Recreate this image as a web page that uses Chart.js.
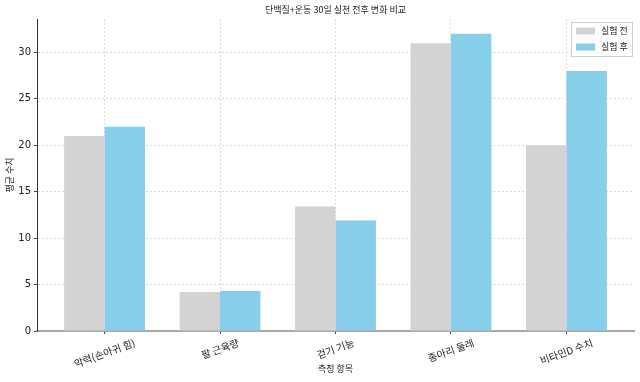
<!DOCTYPE html>
<html>
<head>
<meta charset="utf-8">
<script src="https://cdn.jsdelivr.net/npm/chart.js@4"></script>
<style>
  html, body { margin: 0; padding: 0; background: #fff; }
  #wrap { width: 640px; height: 382px; }
</style>
</head>
<body>
<div id="wrap"><canvas id="chart" width="640" height="382"></canvas></div>
<script>
// data
const categories = ["악력(손아귀 힘)", "팔 근육량", "걷기 기능", "종아리 둘레", "비타민D 수치"];
const beforeValues = [21, 4.2, 13.4, 31, 20];
const afterValues = [22, 4.3, 11.9, 32, 28];
const yTicks = [0, 5, 10, 15, 20, 25, 30];
const seriesNames = ["실험 전", "실험 후"];
const titleText = "단백질+운동 30일 실천 전후 변화 비교";
const xTitle = "측정 항목";
const yTitle = "평균 수치";

const FONT = "'DejaVu Sans', 'Noto Sans CJK KR', sans-serif";
const KFONT = "'Noto Sans CJK KR', 'DejaVu Sans', sans-serif";

// draws title, axis titles, rotated x labels and the boxed legend
const extras = {
    id: 'extras',
    afterDraw(chart) {
        const ctx = chart.ctx;
        const area = chart.chartArea;
        const xs = chart.scales.x;
        ctx.save();
        ctx.fillStyle = '#222';

        ctx.font = "9px " + KFONT;
        ctx.textAlign = 'center';
        ctx.textBaseline = 'middle';
        ctx.fillText(titleText, (area.left + area.right) / 2, 10);
        ctx.fillText(xTitle, (area.left + area.right) / 2, 369);

        ctx.save();
        ctx.translate(10, (area.top + area.bottom) / 2);
        ctx.rotate(-Math.PI / 2);
        ctx.fillText(yTitle, 0, 0);
        ctx.restore();

        // x tick labels, rotated 20 degrees, centred under each group
        const ang = 20 * Math.PI / 180;
        ctx.font = "10px " + KFONT;
        categories.forEach((c, i) => {
            const w = ctx.measureText(c).width;
            const h = 11;
            const bh = w * Math.sin(ang) + h * Math.cos(ang);
            const cx = xs.getPixelForValue(i);
            const cy = area.bottom + 6 + bh / 2;
            ctx.save();
            ctx.translate(cx, cy);
            ctx.rotate(-ang);
            ctx.fillText(c, 0, 0);
            ctx.restore();
        });

        // legend in the upper right corner
        const lx = 571, ly = 22, lw = 61, lh = 34;
        ctx.font = "9px " + KFONT;
        ctx.fillStyle = 'rgba(255,255,255,0.85)';
        ctx.fillRect(lx, ly, lw, lh);
        ctx.strokeStyle = '#d0d0d0';
        ctx.lineWidth = 1;
        ctx.strokeRect(lx + 0.5, ly + 0.5, lw, lh);
        ctx.textAlign = 'left';
        chart.data.datasets.forEach((ds, i) => {
            const y = ly + 9 + i * 16;
            ctx.fillStyle = ds.backgroundColor;
            ctx.fillRect(lx + 5, y - 3.5, 19, 7);
            ctx.fillStyle = '#222';
            ctx.fillText(ds.label, lx + 30, y);
        });
        ctx.restore();
    }
};

new Chart(document.getElementById('chart'), {
    type: 'bar',
    data: {
        datasets: [
            {
                label: seriesNames[0],
                backgroundColor: '#d3d3d3',
                data: beforeValues.map((v, i) => ({ x: i, y: v }))
            },
            {
                label: seriesNames[1],
                backgroundColor: '#87ceeb',
                data: afterValues.map((v, i) => ({ x: i, y: v }))
            }
        ]
    },
    options: {
        responsive: false,
        animation: false,
        devicePixelRatio: 1,
        layout: { padding: { top: 19, right: 6, bottom: 0, left: 0 } },
        datasets: { bar: { categoryPercentage: 0.7, barPercentage: 1.0 } },
        plugins: {
            legend: { display: false },
            title: { display: false },
            tooltip: { enabled: false }
        },
        scales: {
            x: {
                type: 'linear',
                offset: false,
                min: -0.585,
                max: categories.length - 1 + 0.585,
                afterBuildTicks: (s) => { s.ticks = categories.map((c, i) => ({ value: i })); },
                afterFit: (s) => { s.height = 51; },
                ticks: { display: false },
                grid: { offset: false, color: '#dcdcdc', drawTicks: true, tickLength: 3, tickColor: '#444' },
                border: { color: '#a8a8a8', width: 2, dash: [2, 2] }
            },
            y: {
                min: 0,
                max: 33.6,
                afterBuildTicks: (s) => { s.ticks = yTicks.map(v => ({ value: v })); },
                afterFit: (s) => { s.width = 37; },
                ticks: {
                    color: '#222',
                    font: { family: FONT, size: 10 },
                    padding: 3
                },
                grid: { color: '#dcdcdc', drawTicks: true, tickLength: 3, tickColor: '#444' },
                border: { color: '#333', width: 1, dash: [2, 2] }
            }
        }
    },
    plugins: [extras]
});
</script>
</body>
</html>
